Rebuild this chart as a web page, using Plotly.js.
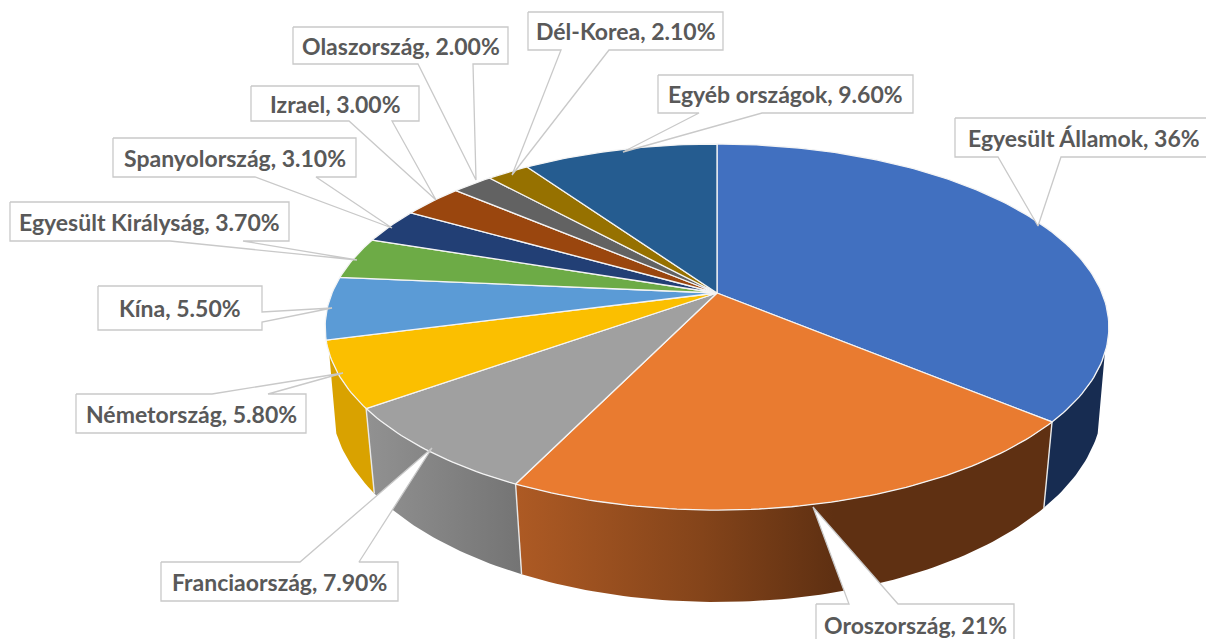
<!DOCTYPE html>
<html>
<head>
<meta charset="utf-8">
<script src="https://cdn.plot.ly/plotly-3.0.1.min.js"></script>
<style>html,body{margin:0;padding:0;background:#fff}#chart{width:1206px;height:639px}</style>
</head>
<body>
<div id="chart"></div>
<script>
// --- data ---
const categories = ["Egyesült Államok","Oroszország","Franciaország","Németország","Kína","Egyesült Királyság","Spanyolország","Izrael","Olaszország","Dél-Korea","Egyéb országok"];
const values = [36,21,7.9,5.8,5.5,3.7,3.1,3.0,2.0,2.1,9.6];
const valueLabels = ["36%","21%","7.90%","5.80%","5.50%","3.70%","3.10%","3.00%","2.00%","2.10%","9.60%"];

// --- styling ---
const topColors = ["#4170c0","#e97b30","#a0a0a0","#fbbf00","#5b9bd6","#6dab46","#223f75","#9a460e","#626262","#967100","#255c90"];
const sideFills = {
  0:{color:"#172c51"},
  1:{start:518,stop:1044,scale:[[0,"#ad5a24"],[0.35,"#84441a"],[0.6,"#5f3012"],[1,"#5f3012"]]},
  2:{start:368,stop:521,scale:[[0,"#919191"],[1,"#747474"]]},
  3:{color:"#d9a200"}
};
// label boxes: [left, top, right, bottom], wedge base on an edge, wedge tip
const callouts = [
  {box:[955,118,1212,157],edge:"b",base:[998,1061],tip:[1038,226]},
  {box:[816,604,1014,660],edge:"t",base:[849,898],tip:[813,507]},
  {box:[161,562,398,601],edge:"t",base:[300,359],tip:[432,448]},
  {box:[76,394,306,433],edge:"t",base:[212,268],tip:[343,373]},
  {box:[98,286,262,330],edge:"r",base:[312,322],tip:[332,308]},
  {box:[10,202,289,241],edge:"b",base:[170,243],tip:[357,260]},
  {box:[113,138,356,177],edge:"b",base:[255,316],tip:[392,228]},
  {box:[251,86,419,121],edge:"b",base:[349,392],tip:[436,200]},
  {box:[293,27,508,64],edge:"b",base:[418,473],tip:[476,180]},
  {box:[528,12,723,50],edge:"b",base:[561,609],tip:[512,175]},
  {box:[658,75,913,113],edge:"b",base:[699,762],tip:[623,152]}
];

// --- projection of the tilted disc onto the page ---
const cx = 717;
const topRim = {A:385,B:176.7,k:0.186,y0:293};
const botRim = {A:380,B:194.7,k:0.17,y0:367.4};
function project(rim,deg){
  const t = deg*Math.PI/180, u = Math.sin(t), v = -Math.cos(t), d = 1-rim.k*v;
  return [cx+rim.A*u/d, rim.y0+rim.B*v/d];
}
function arc(rim,a0,a1){
  const n = Math.max(2,Math.ceil(Math.abs(a1-a0))), pts=[];
  for(let i=0;i<=n;i++) pts.push(project(rim,a0+(a1-a0)*i/n));
  return pts;
}
const total = values.reduce((a,b)=>a+b,0);
const edges=[0];
values.forEach(v=>edges.push(edges[edges.length-1]+v/total*360));
const sideFrom = 108.7, sideTo = 251.3;

const traces=[];
// side walls
values.forEach((v,i)=>{
  const a0=Math.max(edges[i],sideFrom), a1=Math.min(edges[i+1],sideTo);
  if(a1<=a0) return;
  const pts=arc(topRim,a0,a1).concat(arc(botRim,a1,a0));
  pts.push(pts[0]);
  const f=sideFills[i]||{color:topColors[i]};
  const tr={type:"scatter",mode:"lines",x:pts.map(p=>p[0]),y:pts.map(p=>p[1]),fill:"toself",
    line:{width:0},hoverinfo:"skip",showlegend:false};
  if(f.scale){tr.fillgradient={type:"horizontal",colorscale:f.scale,start:f.start,stop:f.stop};}
  else{tr.fillcolor=f.color;}
  traces.push(tr);
});
// white dividers on the wall
const dx=[],dy=[];
edges.forEach(e=>{
  if(e>sideFrom&&e<sideTo){
    const p=project(topRim,e),q=project(botRim,e);
    dx.push(p[0],q[0],null);dy.push(p[1],q[1],null);
  }
});
traces.push({type:"scatter",mode:"lines",x:dx,y:dy,line:{color:"#e8e8e8",width:1.4},hoverinfo:"skip",showlegend:false});
// top faces
values.forEach((v,i)=>{
  const pts=[[cx,topRim.y0]].concat(arc(topRim,edges[i],edges[i+1]));
  pts.push(pts[0]);
  traces.push({type:"scatter",mode:"lines",name:categories[i],x:pts.map(p=>p[0]),y:pts.map(p=>p[1]),
    fill:"toself",fillcolor:topColors[i],line:{color:"#f4f4f4",width:1.3},
    text:categories[i]+", "+valueLabels[i],hoverinfo:"text",showlegend:false});
});
// callouts
callouts.forEach(c=>{
  const [l,t,r,b]=c.box, [p,q]=c.base, tip=c.tip;
  let pts;
  if(c.edge==="b") pts=[[l,t],[r,t],[r,b],[q,b],tip,[p,b],[l,b],[l,t]];
  else if(c.edge==="t") pts=[[l,t],[p,t],tip,[q,t],[r,t],[r,b],[l,b],[l,t]];
  else pts=[[l,t],[r,t],[r,p],tip,[r,q],[r,b],[l,b],[l,t]];
  traces.push({type:"scatter",mode:"lines",x:pts.map(a=>a[0]),y:pts.map(a=>a[1]),fill:"toself",
    fillcolor:"#ffffff",line:{color:"#c9c9c9",width:1.3},hoverinfo:"skip",showlegend:false});
});
// label text
const annotations=categories.map((c,i)=>{
  const b=callouts[i].box;
  let yc=(b[1]+b[3])/2;
  if(i===1) yc=625;
  return {x:(b[0]+b[2])/2,y:yc,xref:"x",yref:"y",xanchor:"center",yanchor:"middle",showarrow:false,
    text:"<b>"+c+", "+valueLabels[i]+"</b>",font:{family:"Lato, sans-serif",size:23,color:"#595959"}};
});
Plotly.newPlot("chart",traces,{
  width:1206,height:639,margin:{l:0,r:0,t:0,b:0},paper_bgcolor:"#fff",plot_bgcolor:"#fff",
  xaxis:{range:[0,1206],visible:false,fixedrange:true},
  yaxis:{range:[639,0],visible:false,fixedrange:true},
  annotations:annotations,showlegend:false
},{displayModeBar:false,staticPlot:false});
</script>
</body>
</html>
